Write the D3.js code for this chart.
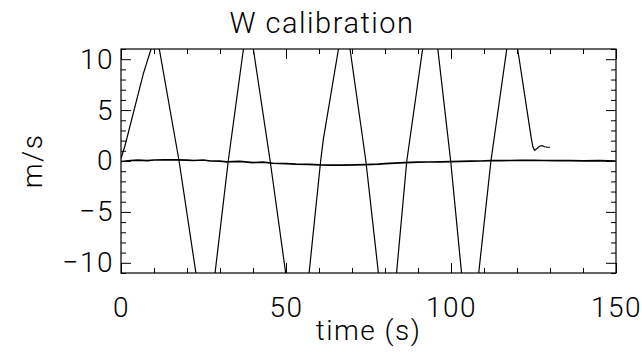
<!DOCTYPE html>
<html>
<head>
<meta charset="utf-8">
<script src="https://cdn.jsdelivr.net/npm/d3@7"></script>
<style>
  body { margin: 0; background: #fff; }
  svg text { font-family: Roboto, "DejaVu Sans", sans-serif; font-weight: 300; fill: #000; letter-spacing: 1.5px; }
</style>
</head>
<body>
<svg></svg>
<script>
// calibration signal (sensor moved up / down)
const signalTime = [0, 1.2, 6.8, 9.1, 10.7, 11.6, 17.6, 22.7, 25.9, 28.5, 32.5, 37.1, 38.5, 40.1, 45.2, 49.9,
    54.0, 57.0, 60.5, 61.3, 65.9, 67.8, 69.4, 74.2, 78.0, 81.0, 83.5, 86.6, 91.4, 93.9, 96.0, 99.9,
    103.2, 105.7, 108.4, 112.1, 116.9, 118.5, 120.2, 124.2, 124.8, 125.3, 126.0, 126.8, 127.6, 128.4, 129.2, 130.0];
const signalValue = [0.25, 1.5, 8.6, 11.0, 12.6, 11.0, 0, -11, -18, -11, 0, 11, 14.4, 11, 0, -11,
    -20, -11, 0, 2.1, 11, 14.8, 11, 0, -11, -19.7, -11, 0, 11, 16.8, 11, 0,
    -11, -19.3, -11, 0, 11, 14.7, 11, 2.5, 1.4, 1.05, 1.2, 1.45, 1.5, 1.4, 1.35, 1.35];

// reference (still) sensor
const baseTime = [0, 3, 5, 8, 10, 13, 17, 20, 22, 25, 27, 30, 32, 36, 40, 43, 46, 50, 53, 57, 60, 64, 67,
    71, 74, 78, 80, 83, 86, 90, 93, 97, 100, 103, 106, 109, 112, 115, 118, 121, 125, 128, 132, 136, 140, 145, 150];
const baseValue = [-0.05, 0.05, 0.08, 0.03, 0.1, 0.12, 0.12, 0.08, 0.05, 0.1, 0.0, -0.02, -0.08, -0.04, -0.15, -0.12, -0.22, -0.25, -0.3, -0.33, -0.38, -0.4, -0.4,
    -0.38, -0.35, -0.3, -0.25, -0.2, -0.16, -0.12, -0.1, -0.08, -0.06, -0.04, -0.02, 0.0, 0.03, 0.04, 0.05, 0.06, 0.06, 0.05, 0.04, 0.03, 0.02, 0.03, 0.0];

const xMajor = [0, 50, 100, 150];
const yMajor = [-10, -5, 0, 5, 10];

const W = 642, H = 356;
const margin = {top: 49, right: 26, bottom: 83, left: 121},
    width = W - margin.left - margin.right,
    height = H - margin.top - margin.bottom;

const svg = d3.select("svg")
    .attr("width", W)
    .attr("height", H)
    .append("g")
    .attr("transform", "translate(" + margin.left + "," + margin.top + ")");

const x = d3.scaleLinear().domain([0, 150]).range([0, width]);
const y = d3.scaleLinear().domain([-11, 11]).range([height, 0]);

svg.append("clipPath").attr("id", "clip")
    .append("rect").attr("width", width).attr("height", height);

const xMinor = d3.range(0, 151, 10).filter(d => !xMajor.includes(d));
const yMinor = d3.range(-11, 12, 1).filter(d => !yMajor.includes(d));

function tickAxis(axis, g) {
    g.call(axis);
    g.select(".domain").remove();
    g.selectAll("line").attr("stroke", "#000").attr("stroke-width", 1);
}

// bottom
const bx = svg.append("g").attr("transform", `translate(0,${height})`);
tickAxis(d3.axisBottom(x).tickValues(xMajor).tickSize(-10).tickPadding(24).tickFormat(d3.format("d")), bx);
bx.selectAll("text").style("font-size", "28px");
tickAxis(d3.axisBottom(x).tickValues(xMinor).tickSize(-5).tickFormat(""), svg.append("g").attr("transform", `translate(0,${height})`));
// top
tickAxis(d3.axisTop(x).tickValues(xMajor).tickSize(-10).tickFormat(""), svg.append("g"));
tickAxis(d3.axisTop(x).tickValues(xMinor).tickSize(-5).tickFormat(""), svg.append("g"));
// left
const ly = svg.append("g");
tickAxis(d3.axisLeft(y).tickValues(yMajor).tickSize(-10).tickPadding(7).tickFormat(d3.format("d")), ly);
ly.selectAll("text").style("font-size", "28px");
tickAxis(d3.axisLeft(y).tickValues(yMinor).tickSize(-5).tickFormat(""), svg.append("g"));
// right
tickAxis(d3.axisRight(y).tickValues(yMajor).tickSize(-10).tickFormat(""), svg.append("g").attr("transform", `translate(${width},0)`));
tickAxis(d3.axisRight(y).tickValues(yMinor).tickSize(-5).tickFormat(""), svg.append("g").attr("transform", `translate(${width},0)`));

svg.append("rect")
    .attr("width", width)
    .attr("height", height)
    .attr("fill", "none")
    .attr("stroke", "#000")
    .attr("stroke-width", 1.2);

const line = d3.line()
    .x(d => x(d[0]))
    .y(d => y(d[1]));

svg.append("path")
    .datum(baseTime.map((t, i) => [t, baseValue[i]]))
    .attr("clip-path", "url(#clip)")
    .attr("fill", "none")
    .attr("stroke", "#000")
    .attr("stroke-width", 1.7)
    .attr("d", line);

svg.append("path")
    .datum(signalTime.map((t, i) => [t, signalValue[i]]))
    .attr("clip-path", "url(#clip)")
    .attr("fill", "none")
    .attr("stroke", "#000")
    .attr("stroke-width", 1.2)
    .attr("d", line);

svg.append("text")
    .attr("x", 322 - margin.left)
    .attr("y", 33 - margin.top)
    .style("text-anchor", "middle")
    .style("font-size", "29px")
    .text("W calibration");

svg.append("text")
    .attr("x", width / 2)
    .attr("y", height + 67)
    .style("text-anchor", "middle")
    .style("font-size", "28px")
    .text("time (s)");

svg.append("text")
    .attr("transform", "rotate(-90)")
    .attr("x", -height / 2)
    .attr("y", -79)
    .style("text-anchor", "middle")
    .style("font-size", "28px")
    .text("m/s");
</script>
</body>
</html>
